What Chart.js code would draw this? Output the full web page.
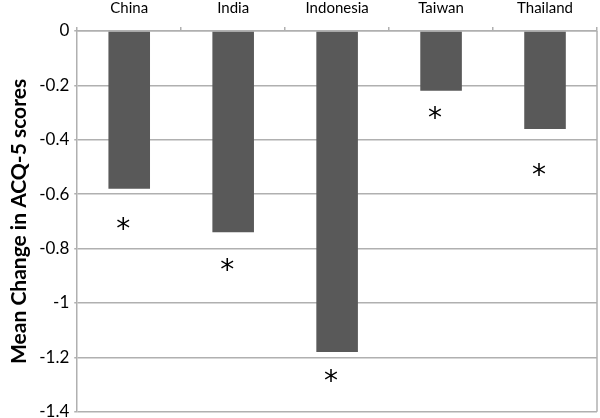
<!DOCTYPE html>
<html>
<head>
<meta charset="utf-8">
<script src="https://cdn.jsdelivr.net/npm/chart.js@4"></script>
<style>
  html, body { margin: 0; padding: 0; background: #fff; overflow: hidden; }
  #wrap { width: 600px; height: 438px; margin-top: -11px; }
</style>
</head>
<body>
<div id="wrap"><canvas id="c"></canvas></div>
<script>
const countries = ["China", "India", "Indonesia", "Taiwan", "Thailand"];
const meanChange = [-0.58, -0.74, -1.18, -0.22, -0.36];
// where the significance asterisks sit
const starValues = [-0.72, -0.87, -1.28, -0.31, -0.52];
const yTicks = [0, -0.2, -0.4, -0.6, -0.8, -1, -1.2, -1.4];

// draws the "*" markers and the right border of the plot
const starsPlugin = {
  id: 'stars',
  afterDatasetsDraw(chart) {
    const ctx = chart.ctx;
    const x = chart.scales.x, y = chart.scales.y;
    ctx.save();
    ctx.fillStyle = '#000';
    ctx.font = '28px "DejaVu Sans"';
    ctx.textAlign = 'center';
    ctx.textBaseline = 'middle';
    starValues.forEach((v, i) => {
      ctx.fillText('*', x.getPixelForValue(i) - 6, y.getPixelForValue(v) + 4);
    });
    const a = chart.chartArea;
    ctx.strokeStyle = '#b0b0b0';
    ctx.lineWidth = 1.5;
    ctx.beginPath();
    ctx.moveTo(a.right, a.top);
    ctx.lineTo(a.right, a.bottom);
    ctx.stroke();
    ctx.restore();
  }
};

new Chart(document.getElementById('c'), {
  type: 'bar',
  data: {
    labels: countries,
    datasets: [{
      data: meanChange,
      backgroundColor: '#595959',
      barPercentage: 0.8,
      categoryPercentage: 0.5
    }]
  },
  options: {
    responsive: true,
    maintainAspectRatio: false,
    animation: false,
    layout: { padding: { left: 5, right: 3, top: 0, bottom: 0 } },
    plugins: {
      legend: { display: false },
      tooltip: { enabled: false }
    },
    scales: {
      x: {
        position: 'top',
        grid: {
          offset: true,
          drawOnChartArea: false,
          color: '#b0b0b0',
          tickLength: 4,
          lineWidth: 1.5
        },
        border: { color: '#b0b0b0', width: 1.5 },
        ticks: {
          color: '#000',
          font: { family: 'Lato', size: 15 },
          padding: 10
        }
      },
      y: {
        min: -1.4,
        max: 0,
        afterBuildTicks(axis) {
          axis.ticks = yTicks.map(v => ({ value: v }));
        },
        grid: {
          color: '#b0b0b0',
          lineWidth: 1.5,
          tickLength: 3
        },
        border: { color: '#b0b0b0', width: 1.5 },
        ticks: {
          color: '#000',
          font: { family: 'Lato', size: 17 },
          padding: 5,
          callback: v => String(v)
        },
        title: {
          display: true,
          text: 'Mean Change in ACQ-5 scores',
          color: '#000',
          font: { family: 'Lato', size: 21, weight: 'bold' },
          padding: { top: 2, bottom: 2 }
        }
      }
    }
  },
  plugins: [starsPlugin]
});
</script>
</body>
</html>
